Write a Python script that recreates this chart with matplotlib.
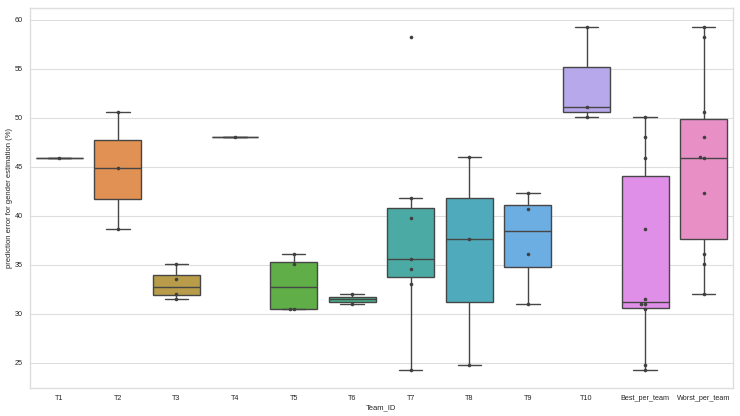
import matplotlib
matplotlib.use("Agg")
import matplotlib.pyplot as plt
import pandas as pd
import seaborn as sns


# prediction error (%) per team
TEAMS = ["T1", "T2", "T3", "T4", "T5", "T6", "T7", "T8", "T9", "T10",
         "Best_per_team", "Worst_per_team"]
T1 = [45.9]
T2 = [38.65, 44.85, 50.53]
T3 = [31.45, 31.99, 33.52, 35.05]
T4 = [47.98]
T5 = [30.43, 30.43, 35.05, 36.1]
T6 = [30.97, 31.99]
T7 = [24.27, 33.01, 34.54, 35.59, 39.71, 41.79, 58.25]
T8 = [24.74, 37.63, 45.94]
T9 = [30.94, 36.1, 40.73, 42.3]
T10 = [50.02, 51.04, 59.3]
BEST = [45.9, 38.65, 31.45, 47.98, 30.43, 30.97, 24.27, 24.74, 30.94, 50.02]
WORST = [45.9, 50.53, 35.05, 47.98, 36.1, 31.99, 58.25, 45.94, 42.3, 59.3]

VALUES = [T1, T2, T3, T4, T5, T6, T7, T8, T9, T10, BEST, WORST]


def build_frame():
    rows = []
    for team, vals in zip(TEAMS, VALUES):
        for v in vals:
            rows.append({"Team_ID": team, "error": v})
    return pd.DataFrame(rows)


sns.set_theme(style="whitegrid")
plt.rcParams["font.family"] = ["Liberation Sans", "DejaVu Sans"]

df = build_frame()
palette = sns.husl_palette(len(TEAMS), l=.7)

fig = plt.figure(figsize=(7.4, 4.16), dpi=100)
ax = fig.add_axes([0.0405, 0.067, 0.95, 0.914])

sns.boxplot(data=df, x="Team_ID", y="error", hue="Team_ID", order=TEAMS,
            hue_order=TEAMS, palette=palette, saturation=.75, legend=False,
            linewidth=1.0, fliersize=0, ax=ax)
sns.swarmplot(data=df, x="Team_ID", y="error", order=TEAMS, color=".25",
              size=2.6, ax=ax)

ax.set_ylim(22.4, 61.2)
ax.set_yticks([25, 30, 35, 40, 45, 50, 55, 60])
ax.set_xlabel("Team_ID", fontsize=5.5, labelpad=1.5)
ax.set_ylabel("prediction error for gender estimation (%)", fontsize=5.5, labelpad=1.5)
ax.tick_params(axis="both", labelsize=5.2, length=0, pad=5)
ax.grid(axis="y", color=".87", linewidth=0.8)
ax.grid(axis="x", visible=False)
for s in ax.spines.values():
    s.set_color(".87")
    s.set_linewidth(1.0)

fig.savefig("out.png", dpi=100)
